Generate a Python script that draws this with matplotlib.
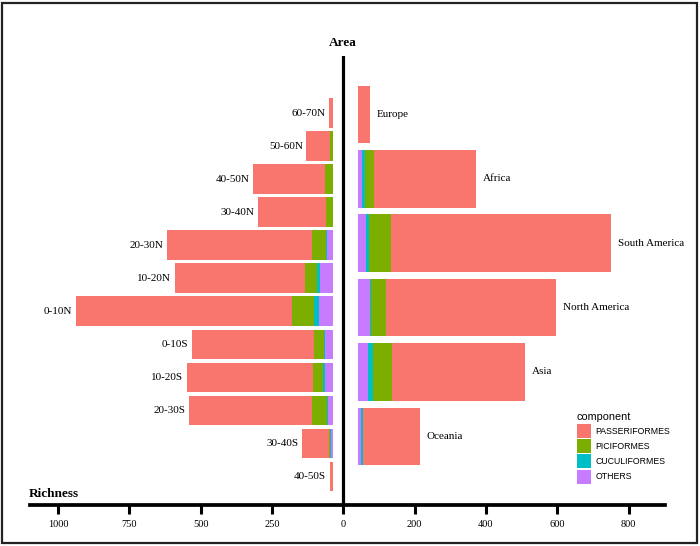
import matplotlib
matplotlib.use("Agg")
import numpy as np
from matplotlib import pyplot as plt
from matplotlib.patches import Patch, Rectangle

# latitude bands (left side, richness per band)
lat_bands = ["60-70N", "50-60N", "40-50N", "30-40N", "20-30N", "10-20N",
             "0-10N", "0-10S", "10-20S", "20-30S", "30-40S", "40-50S"]
lat_others = [0, 0, 0, 0, 21, 45, 47, 26, 25, 15, 4, 0]
lat_cucul = [0, 0, 0, 0, 3, 9, 18, 5, 8, 4, 4, 0]
lat_pici = [0, 10, 25, 23, 48, 44, 79, 33, 34, 54, 3, 0]
lat_passer = [14, 82, 254, 238, 509, 456, 757, 430, 445, 429, 97, 10]

# continents (right side)
continents = ["Europe", "Africa", "South America", "North America", "Asia", "Oceania"]
cont_others = [0, 13, 24, 35, 28, 11]
cont_cucul = [0, 7, 8, 2, 16, 3]
cont_pici = [0, 27, 62, 43, 53, 2]
cont_passer = [35, 285, 618, 478, 372, 158]

components = ["PASSERIFORMES", "PICIFORMES", "CUCULIFORMES", "OTHERS"]
colors = {"PASSERIFORMES": "#F8766D", "PICIFORMES": "#7CAE00",
          "CUCULIFORMES": "#00BFC4", "OTHERS": "#C77CFF"}

left_ticks = [1000, 750, 500, 250, 0]
right_ticks = [200, 400, 600, 800]

LEFT_SCALE = 0.8   # left side is drawn compressed
LEFT_GAP = 30
RIGHT_GAP = 40

serif = ["Liberation Serif", "DejaVu Serif"]
sans = ["Liberation Sans", "DejaVu Sans"]

fig = plt.figure(figsize=(7, 5.46), dpi=100)
W, H = 700, 546
x0, x1 = 30, 665
y_top, y_bot = 55.7, 505
ax = fig.add_axes([x0 / W, 1 - y_bot / H, (x1 - x0) / W, (y_bot - y_top) / H])
ax2 = ax.twinx()

px_per_unit = 0.3565
ax.set_xlim((x0 - 343.3) / px_per_unit, (x1 - 343.3) / px_per_unit)
ax.set_ylim((y_bot - 113) / 33.03, (y_top - 113) / 33.03)
ax2.set_ylim((y_bot - 114.5) / 64.34, (y_top - 114.5) / 64.34)

# left stacked bars (from centre outwards)
lat_stack = [lat_others, lat_cucul, lat_pici, lat_passer]
yl = np.arange(len(lat_bands))
cum = np.zeros(len(lat_bands))
for name, vals in zip(components[::-1], lat_stack):
    vals = np.array(vals, dtype=float)
    ax.barh(yl, -LEFT_SCALE * vals, left=-(LEFT_GAP + LEFT_SCALE * cum),
            height=0.89, color=colors[name], linewidth=0)
    cum += vals
for i, lab in enumerate(lat_bands):
    ax.annotate(lab, (-(LEFT_GAP + LEFT_SCALE * cum[i]), i), xytext=(-2.5, 0),
                textcoords="offset points", ha="right", va="center",
                fontsize=8, family=serif)

# right stacked bars
cont_stack = [cont_others, cont_cucul, cont_pici, cont_passer]
yr = np.arange(len(continents))
cum = np.zeros(len(continents))
for name, vals in zip(components[::-1], cont_stack):
    vals = np.array(vals, dtype=float)
    ax2.barh(yr, vals, left=RIGHT_GAP + cum, height=0.892,
             color=colors[name], linewidth=0)
    cum += vals
for j, lab in enumerate(continents):
    ax2.annotate(lab, (RIGHT_GAP + cum[j], j), xytext=(5, 0),
                 textcoords="offset points", ha="left", va="center",
                 fontsize=8, family=serif)

# axes styling
ax.axvline(0, color="black", lw=2.3)
for a in (ax, ax2):
    for s in a.spines.values():
        s.set_visible(False)
    a.set_yticks([])
ax.spines["bottom"].set_visible(True)
ax.spines["bottom"].set_linewidth(2.7)
ax.set_xticks([-LEFT_SCALE * t for t in left_ticks] + right_ticks)
ax.set_xticklabels([str(t) for t in left_ticks] + [str(t) for t in right_ticks],
                   fontsize=7.5, family=serif)
ax.tick_params(axis="x", length=6.5, width=2.2, pad=4.5, color="black")

fig.text(343 / W, 1 - 43.5 / H, "Area", ha="center", va="center",
         fontsize=9.5, fontweight="bold", family=serif)
fig.text(28.5 / W, 1 - 494.3 / H, "Richness", ha="left", va="center",
         fontsize=9.5, fontweight="bold", family=serif)

handles = [Patch(facecolor=colors[c], edgecolor="none") for c in components]
fig.legend(handles, components, title="component", loc="upper left",
           bbox_to_anchor=(576.5 / W, 1 - 412.5 / H), frameon=False,
           prop={"family": sans, "size": 6.3},
           title_fontproperties={"family": sans, "size": 7.8},
           handlelength=1.6, handleheight=2.08, labelspacing=0.15,
           handletextpad=0.6, borderpad=0, borderaxespad=0, alignment="left")

# outer frame
fig.patches.append(Rectangle((2 / W, 3 / H), 695 / W, 540 / H, transform=fig.transFigure,
                             fill=False, edgecolor="#222222", linewidth=1.6))

fig.savefig("out.png", dpi=100)
